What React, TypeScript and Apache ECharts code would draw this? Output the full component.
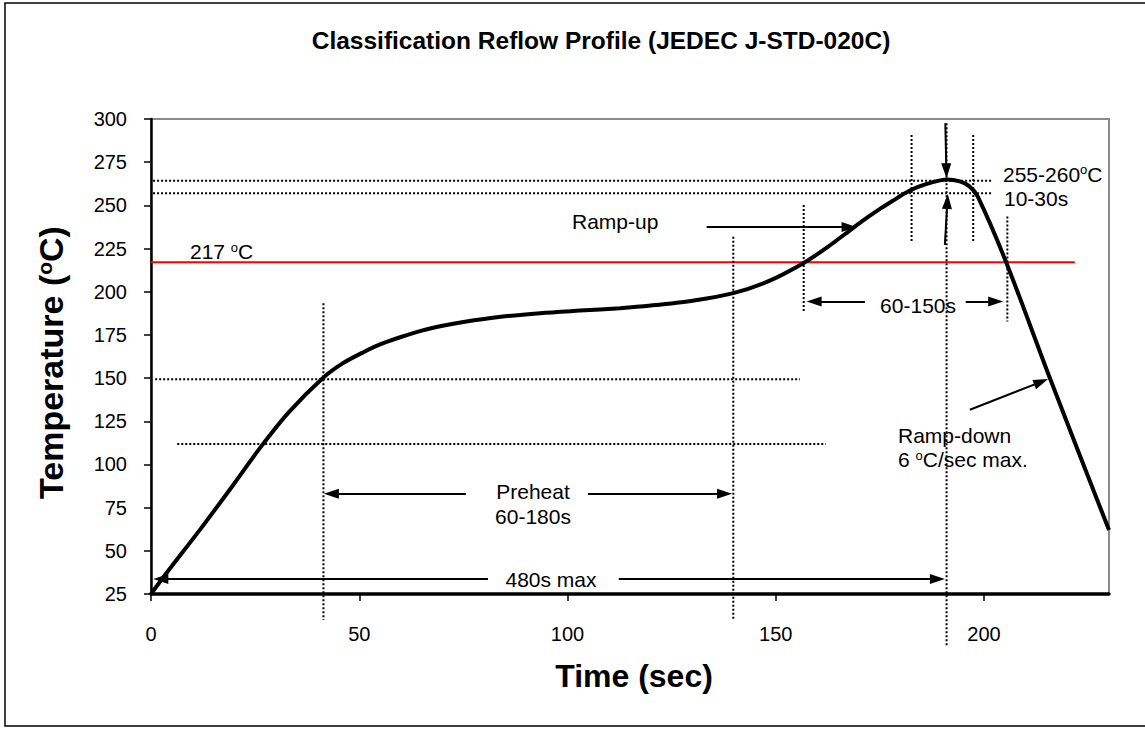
import React, { useEffect, useRef } from 'react';
import * as echarts from 'echarts';

// Reflow profile curve (time in s, temperature in °C)
const TIME = [0, 4, 12, 20, 26, 33, 41.4, 46, 51, 55, 60, 65, 70, 75, 84, 93.4, 103, 112.6, 120, 130, 139.8, 148, 156.6, 162.5, 168.6, 172, 175, 178, 181, 184, 187.5, 191, 194, 196.5, 198.5, 205.4, 215.8, 230];
const TEMP = [25, 38, 63, 89, 109, 130, 150.3, 158.5, 165, 169.5, 173.8, 177.5, 180.3, 182.5, 185.5, 187.6, 189.1, 190.5, 192, 194.8, 199.2, 205.8, 216.5, 226, 237, 243, 248, 252.5, 257, 260.5, 263.3, 265, 264, 261, 255, 216.5, 150, 62];

const X_TICKS = [0, 50, 100, 150, 200];
const Y_MIN = 25;
const Y_MAX = 300;
const Y_STEP = 25;
const X_MAX = 230;

// liquidus line
const LIQUIDUS_T = [0, 221.8];
const LIQUIDUS_V = [217, 217];

// dotted guides: [t0, T0, t1, T1]
const GUIDES = [
  [0.5, 264.3, 202.1, 264.3],
  [0.5, 257, 201.8, 257],
  [1, 149.4, 155.8, 149.4],
  [6.3, 111.8, 162, 111.8],
  [41.4, 193.4, 41.4, 10],
  [139.8, 231.9, 139.8, 10],
  [191, 297.5, 191, -5.3],
  [156.7, 250.2, 156.7, 188.5],
  [182.6, 290.7, 182.6, 229],
  [197.4, 290.7, 197.4, 229],
  [205.6, 243.5, 205.6, 182.7],
];

// arrows: [t0, T0, tipT, tipV]
const ARROWS = [
  [80.9, 33.7, 0.55, 33.7],
  [112.3, 33.7, 190.6, 33.7],
  [75.6, 83, 41.5, 83],
  [104.9, 83, 139.5, 83],
  [133.4, 237.5, 169.4, 237.5],
  [171.4, 194.3, 157.4, 194.3],
  [195.6, 194.3, 204.6, 194.3],
  [190.7, 297.5, 191, 265.7],
  [190.6, 227.1, 191.3, 256.6],
  [196.6, 131.7, 215.4, 149.4],
];

const FONT = '"Liberation Sans", Arial, Helvetica, sans-serif';
const W = 1145;
const H = 729;
const G_LEFT = 151;
const G_TOP = 119;
const G_RIGHT = 36;
const G_BOTTOM = 135;
const ARROW_W = 10;
const ARROW_L = 15;

export default function App() {
  const ref = useRef<HTMLDivElement>(null);

  useEffect(() => {
    if (!ref.current) return;
    const chart = echarts.init(ref.current, null, { renderer: 'svg' });

    const sx = (W - G_LEFT - G_RIGHT) / X_MAX;
    const sy = (H - G_TOP - G_BOTTOM) / (Y_MAX - Y_MIN);

    const arrowData = ARROWS.map(([t0, v0, t1, v1]) => {
      const dx = (t1 - t0) * sx;
      const dy = -(v1 - v0) * sy;
      const len = Math.sqrt(dx * dx + dy * dy);
      const back = ARROW_L / 2;
      const te = t1 - (back * dx) / len / sx;
      const ve = v1 + (back * dy) / len / sy;
      return [{ coord: [t0, v0] }, { coord: [te, ve] }];
    });

    const guideSeries = GUIDES.map(([t0, v0, t1, v1]) => ({
      type: 'line',
      data: [
        [t0, v0],
        [t1, v1],
      ],
      symbol: 'none',
      clip: false,
      silent: true,
      lineStyle: { color: '#000', width: 2, type: [2, 2] },
      z: 3,
    }));

    const supRich = (fs: number, bold: boolean) => ({
      n: { fontSize: fs, fontFamily: FONT, fontWeight: bold ? 'bold' : 'normal', fill: '#000', color: '#000' },
      s: {
        fontSize: Math.round(fs * 0.62),
        fontFamily: FONT,
        fontWeight: bold ? 'bold' : 'normal',
        color: '#000',
        fill: '#000',
        padding: [0, 0, Math.round(fs * 0.42), 0],
      },
    });

    const txt = (text: string, x: number, y: number, align = 'left', fs = 21, rich = false) => ({
      type: 'text',
      x,
      y,
      silent: true,
      z: 10,
      style: {
        text,
        fontSize: fs,
        fontFamily: FONT,
        fill: '#000',
        align,
        verticalAlign: 'middle',
        ...(rich ? { rich: supRich(fs, false) } : {}),
      },
    });

    const option: any = {
      animation: false,
      backgroundColor: '#fff',
      grid: {
        left: G_LEFT,
        top: G_TOP,
        right: G_RIGHT,
        bottom: G_BOTTOM,
        show: true,
        borderColor: '#8a8a8a',
        borderWidth: 2,
        backgroundColor: 'transparent',
        containLabel: false,
        outerBoundsMode: 'none',
      },
      xAxis: {
        type: 'value',
        min: 0,
        max: X_MAX,
        interval: 50,
        axisLine: { show: true, onZero: false, lineStyle: { color: '#000', width: 3.5 } },
        axisTick: { show: true, length: 7, lineStyle: { color: '#000', width: 1.5 }, customValues: X_TICKS },
        axisLabel: { color: '#000', fontSize: 20, fontFamily: FONT, margin: 30, customValues: X_TICKS },
        splitLine: { show: false },
      },
      yAxis: {
        type: 'value',
        min: Y_MIN,
        max: Y_MAX,
        interval: Y_STEP,
        axisLine: { show: true, onZero: false, lineStyle: { color: '#000', width: 2.5 } },
        axisTick: { show: true, length: 7, lineStyle: { color: '#000', width: 1.5 } },
        axisLabel: { color: '#000', fontSize: 20, fontFamily: FONT, margin: 24 },
        splitLine: { show: false },
      },
      series: [
        {
          type: 'line',
          data: LIQUIDUS_T.map((t, i) => [t, LIQUIDUS_V[i]]),
          symbol: 'none',
          silent: true,
          lineStyle: { color: '#ff0000', width: 2 },
          z: 2,
        },
        ...guideSeries,
        {
          type: 'line',
          data: TIME.map((t, i) => [t, TEMP[i]]),
          smooth: 0.3,
          symbol: 'none',
          silent: true,
          lineStyle: { color: '#000', width: 4 },
          z: 5,
        },
        {
          type: 'line',
          data: [],
          silent: true,
          markLine: {
            silent: true,
            symbol: ['none', 'triangle'],
            symbolSize: [ARROW_W, ARROW_L],
            label: { show: false },
            emphasis: { disabled: true },
            lineStyle: { color: '#000', width: 2, type: 'solid' },
            itemStyle: { color: '#000' },
            data: arrowData,
          },
          z: 6,
        },
      ],
      graphic: [
        {
          type: 'rect',
          shape: { x: 5, y: 3, width: 1150, height: 723 },
          style: { fill: 'none', stroke: '#000', lineWidth: 1.5 },
          silent: true,
          z: 0,
        },
        {
          type: 'text',
          x: 601,
          y: 40,
          silent: true,
          style: {
            text: 'Classification Reflow Profile (JEDEC J-STD-020C)',
            fontSize: 24.5,
            fontWeight: 'bold',
            fontFamily: FONT,
            fill: '#000',
            align: 'center',
            verticalAlign: 'middle',
          },
        },
        {
          type: 'text',
          x: 634,
          y: 676,
          silent: true,
          style: {
            text: 'Time (sec)',
            fontSize: 32,
            fontWeight: 'bold',
            fontFamily: FONT,
            fill: '#000',
            align: 'center',
            verticalAlign: 'middle',
          },
        },
        {
          type: 'text',
          x: 51,
          y: 362.5,
          rotation: Math.PI / 2,
          silent: true,
          style: {
            text: '{n|Temperature (}{s|o}{n|C)}',
            fontSize: 34,
            fontWeight: 'bold',
            fontFamily: FONT,
            fill: '#000',
            align: 'center',
            verticalAlign: 'middle',
            rich: supRich(34, true),
          },
        },
        txt('{n|217 }{s|o}{n|C}', 190, 251.7, 'left', 21, true),
        txt('Ramp-up', 572, 221.7),
        txt('60-150s', 956, 305.7, 'right'),
        txt('{n|255-260}{s|o}{n|C}', 1003, 174, 'left', 21, true),
        txt('10-30s', 1004, 198.4),
        txt('Preheat', 533, 491.7, 'center'),
        txt('60-180s', 533, 516.4, 'center'),
        txt('480s max', 551, 579.7, 'center'),
        txt('Ramp-down', 898, 435.7),
        txt('{n|6 }{s|o}{n|C/sec max.}', 898, 459.7, 'left', 21, true),
      ],
    };

    chart.setOption(option);
    return () => chart.dispose();
  }, []);

  return (
    <div
      ref={ref}
      style={{ position: 'fixed', left: 0, top: 0, width: W, height: H, background: '#fff' }}
    />
  );
}
